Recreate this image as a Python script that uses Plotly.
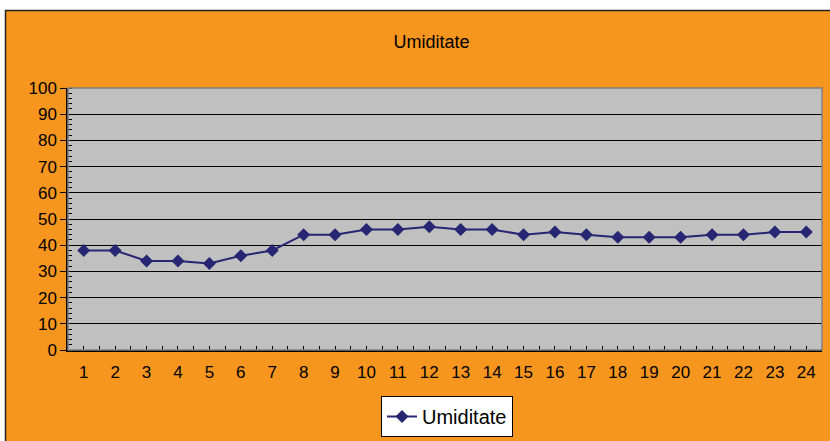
import plotly.graph_objects as go

hours = list(range(1, 25))
umiditate = [38, 38, 34, 34, 33, 36, 38, 44, 44, 46, 46, 47,
             46, 46, 44, 45, 44, 43, 43, 43, 44, 44, 45, 45]

orange = "#F7961E"
navy = "#262673"

fig = go.Figure()
fig.add_trace(
    go.Scatter(
        x=hours,
        y=umiditate,
        mode="lines+markers",
        name="Umiditate",
        line=dict(color=navy, width=2),
        marker=dict(symbol="diamond", size=10, color=navy),
    )
)

# pixel -> paper helpers for plot area l=68, r=822, t=88, b=350
def px(x):
    return (x - 68) / 754

def py(y):
    return (350 - y) / 262

shapes = [
    # white strips outside the chart area (top and left)
    dict(type="rect", xref="paper", yref="paper", x0=px(0), x1=px(830), y0=py(10), y1=py(0),
         fillcolor="white", line_width=0, layer="above"),
    dict(type="rect", xref="paper", yref="paper", x0=px(0), x1=px(5), y0=py(441), y1=py(0),
         fillcolor="white", line_width=0, layer="above"),
    # dark chart border
    dict(type="line", xref="paper", yref="paper", x0=px(5), x1=px(830), y0=py(10.5), y1=py(10.5),
         line=dict(color="#222222", width=1.5)),
    dict(type="line", xref="paper", yref="paper", x0=px(5.5), x1=px(5.5), y0=py(10), y1=py(441),
         line=dict(color="#222222", width=1.5)),
    # plot area border (top/right)
    dict(type="rect", xref="paper", yref="paper", x0=0, x1=1, y0=0, y1=1,
         line=dict(color="#808080", width=1.5)),
]

fig.update_layout(
    width=830,
    height=441,
    margin=dict(l=68, r=8, t=88, b=91, autoexpand=False),
    paper_bgcolor=orange,
    plot_bgcolor="#C0C0C0",
    font=dict(family="Liberation Sans, Arial, sans-serif", color="black"),
    title=dict(text="Umiditate", x=0.52, xanchor="center", y=0.905, yanchor="middle",
               font=dict(size=18)),
    xaxis=dict(
        range=[0.5, 24.5],
        tickmode="linear", tick0=1, dtick=1,
        ticks="inside", ticklen=4, tickcolor="black",
        minor=dict(dtick=1, tick0=0.5, ticks="inside", ticklen=4, tickcolor="black"),
        showgrid=False, zeroline=False,
        showline=True, linecolor="black", linewidth=1.5,
        tickfont=dict(size=17),
        ticklabelstandoff=6,
    ),
    yaxis=dict(
        range=[0, 100],
        tickmode="linear", tick0=0, dtick=10,
        ticks="outside", ticklen=6, tickcolor="black",
        minor=dict(dtick=2, ticks="inside", ticklen=4, tickcolor="black", showgrid=False),
        showgrid=True, gridcolor="black", gridwidth=1,
        zeroline=False,
        showline=True, linecolor="black", linewidth=1.5,
        tickfont=dict(size=17),
    ),
    legend=dict(
        orientation="h",
        x=px(447), xanchor="center",
        y=py(437), yanchor="bottom",
        bgcolor="white",
        bordercolor="black",
        borderwidth=1,
        font=dict(size=20),
    ),
    showlegend=True,
    shapes=shapes,
)

fig.write_html("out.html", config={"displayModeBar": False},
               post_script="document.body.style.margin='0';")
